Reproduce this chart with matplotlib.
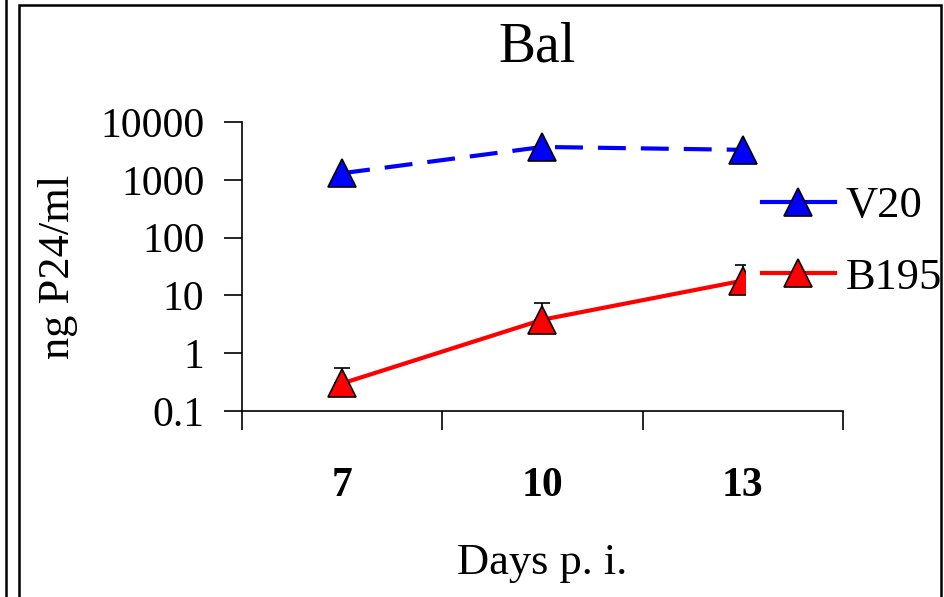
import numpy as np
import matplotlib
matplotlib.use("Agg")
import matplotlib.pyplot as plt
from matplotlib.lines import Line2D
from matplotlib.patches import Rectangle

plt.rcParams["font.family"] = ["Liberation Serif", "DejaVu Serif"]

days = ["7", "10", "13"]
v20 = [1300, 3700, 3300]
b195 = [0.3, 3.8, 18]
b195_err_up = [0.25, 3.7, 15]
y_ticks = [0.1, 1, 10, 100, 1000, 10000]
y_tick_labels = ["0.1", "1", "10", "100", "1000", "10000"]

fig = plt.figure(figsize=(9.45, 5.97), dpi=100)
ax = fig.add_axes([242 / 945, 1 - 411 / 597, (843 - 242) / 945, (411 - 122) / 597])

x = np.arange(len(days))

ax.errorbar(x, b195, yerr=[np.zeros(len(b195)), b195_err_up], fmt="none",
            ecolor="black", elinewidth=1.2, capsize=6, capthick=1.2, zorder=2)
ax.plot(x, v20, color="#0000ff", lw=3, ls=(0, (6.7, 3.6)), zorder=3)
ax.plot(x, v20, ls="none", marker="^", ms=20, mfc="#0000ff", mec="black",
        mew=1.2, zorder=4)
ax.plot(x, b195, color="#ff0000", lw=3, zorder=3)
ax.plot(x, b195, ls="none", marker="^", ms=20, mfc="#ff0000", mec="black",
        mew=1.2, zorder=4)

ax.set_yscale("log")
ax.set_ylim(0.1, 10000)
ax.set_yticks(y_ticks)
ax.set_yticklabels(y_tick_labels)
ax.yaxis.set_minor_locator(matplotlib.ticker.NullLocator())
ax.tick_params(axis="y", labelsize=30, length=13, width=1.2, pad=14)

ax.set_xlim(-0.5, len(days) - 0.5)
ax.set_xticks(np.arange(len(days) + 1) - 0.5)
ax.set_xticklabels([])
ax.set_xticks(x, minor=True)
ax.set_xticklabels(days, minor=True, fontweight="bold", fontsize=30)
ax.tick_params(axis="x", which="major", length=14, width=1.2)
ax.tick_params(axis="x", which="minor", length=0, pad=40)

for side in ["top", "right"]:
    ax.spines[side].set_visible(False)
for side in ["left", "bottom"]:
    ax.spines[side].set_linewidth(1.2)

ax.set_xlabel("Days p. i.", fontsize=32, labelpad=28)
ax.set_ylabel("ng P24/ml", fontsize=32, labelpad=16)
fig.text(537 / 945, 1 - 47 / 597, "Bal", fontsize=40, ha="center", va="center")

handles = [
    Line2D([], [], color="#0000ff", lw=3, marker="^", ms=20, mfc="#0000ff",
           mec="black", mew=1.2),
    Line2D([], [], color="#ff0000", lw=3, marker="^", ms=20, mfc="#ff0000",
           mec="black", mew=1.2),
]
leg = fig.legend(handles, ["V20", "B195"], loc="center left",
                 bbox_to_anchor=(746 / 945, 1 - 242 / 597), fontsize=32,
                 frameon=True, fancybox=False, edgecolor="none",
                 facecolor="white", framealpha=1, handlelength=1.65,
                 handletextpad=0.25, labelspacing=0.7, borderaxespad=0,
                 borderpad=0.35)
leg.get_frame().set_linewidth(0)

# page frame lines
fig.add_artist(Line2D([6 / 945, 6 / 945], [0, 1], color="black", lw=1.8,
                      transform=fig.transFigure, zorder=10))
fig.add_artist(Rectangle((19 / 945, -0.05), (941 - 19) / 945, 1 - 5 / 597 + 0.05,
                         fill=False, ec="black", lw=1.8,
                         transform=fig.transFigure, zorder=10))

fig.savefig("out.png", dpi=100)
